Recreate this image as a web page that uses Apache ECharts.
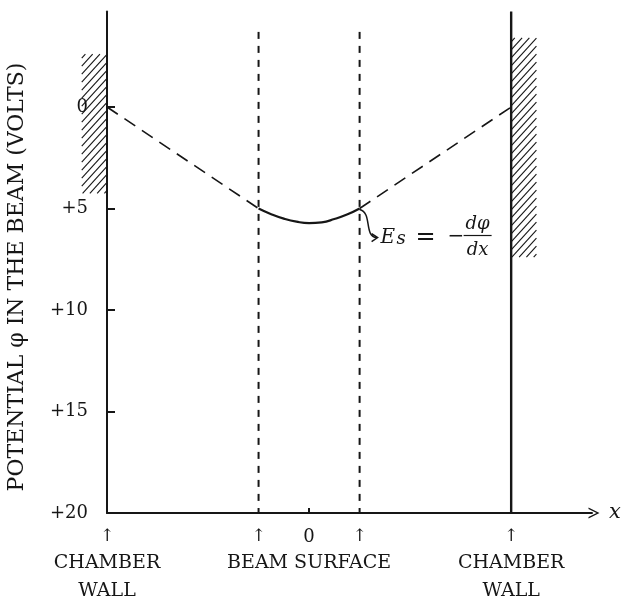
<!DOCTYPE html>
<html>
<head>
<meta charset="utf-8">
<script src="https://cdn.jsdelivr.net/npm/echarts@6/dist/echarts.min.js"></script>
<style>
  html, body { margin: 0; padding: 0; background: #fff; }
  #chart { width: 623px; height: 602px; }
</style>
</head>
<body>
<div id="chart"></div>
<script>
// x in beam radii: chamber walls at -4 / +4, beam surface at -1 / +1
var wallX = [-4, 4];
var beamX = [-1, 1];
// potential inside the beam (solid curve)
var beamCurveX = [-1, -0.75, -0.5, -0.25, 0, 0.25, 0.5, 0.75, 1];
var beamCurveY = [5.0, 5.28, 5.5, 5.65, 5.72, 5.68, 5.52, 5.3, 5.0];
// potential between beam and walls (dashed straight lines)
var leftGapX = [-4, -1], leftGapY = [0, 5.0];
var rightGapX = [1, 4], rightGapY = [5.0, 0];
// y ticks
var yTicks = [0, 5, 10, 15, 20];
var yTickLabels = ['0', '+5', '+10', '+15', '+20'];
// hatched wall sections [x0, x1, y0, y1]
var hatchLeft = [-4.5, -4, -2.6, 4.25];
var hatchRight = [4, 4.5, -3.4, 7.4];
var beamLineTop = -3.7;
var axisTop = -4.7;

var ink = '#161616';
var serif = 'DejaVu Serif';

function zip(xs, ys) {
  return xs.map(function (x, i) { return [x, ys[i]]; });
}

var chart = echarts.init(document.getElementById('chart'));

function renderHatch(params, api) {
  var a = api.coord([api.value(0), api.value(2)]);
  var b = api.coord([api.value(1), api.value(3)]);
  var x0 = Math.min(a[0], b[0]), x1 = Math.max(a[0], b[0]);
  var y0 = Math.min(a[1], b[1]), y1 = Math.max(a[1], b[1]);
  var w = x1 - x0, k = 1.1, step = 8;
  var lines = [];
  for (var yb = y0 + 4; yb < y1 + w * k; yb += step) {
    var sx = x0, sy = yb, ex = x1, ey = yb - w * k;
    if (sy > y1) { sx = x0 + (sy - y1) / k; sy = y1; }
    if (ey < y0) { ex = x0 + (yb - y0) / k; ey = y0; }
    if (ex <= sx) continue;
    lines.push({
      type: 'line',
      shape: { x1: sx, y1: sy, x2: ex, y2: ey },
      style: { stroke: ink, lineWidth: 1.1 }
    });
  }
  return { type: 'group', children: lines };
}

var option = {
  animation: false,
  backgroundColor: '#fff',
  grid: { left: 107, right: 31, top: 11.6, bottom: 89, containLabel: false, outerBoundsMode: 'none' },
  xAxis: {
    type: 'value',
    min: -4,
    max: 5.6,
    name: 'x',
    nameLocation: 'end',
    nameGap: 17,
    nameTextStyle: { fontFamily: serif, fontStyle: 'italic', fontSize: 21, color: ink },
    axisLine: {
      onZero: false,
      lineStyle: { color: ink, width: 2 },
      symbol: ['none', 'path://M0,12 L6,0 L12,12 L10.4,12 L6,3.2 L1.6,12 Z'],
      symbolSize: [11, 12],
      symbolOffset: [0, 2]
    },
    axisTick: { show: true, inside: true, length: 5, lineStyle: { color: ink, width: 2 }, customValues: [0] },
    axisLabel: {
      show: true,
      customValues: [wallX[0], beamX[0], 0, beamX[1], wallX[1]],
      margin: 12,
      color: ink,
      formatter: function (v) {
        if (v === 0) return '{z|0}\n{t|BEAM SURFACE}';
        if (v === wallX[0] || v === wallX[1]) return '{a|↑}\n{t|CHAMBER}\n{t|WALL}';
        return '{a|↑}';
      },
      rich: {
        a: { fontFamily: serif, fontSize: 17, lineHeight: 24, color: ink },
        z: { fontFamily: serif, fontSize: 18, lineHeight: 24, color: ink },
        t: { fontFamily: serif, fontSize: 19, lineHeight: 28, color: ink }
      }
    },
    splitLine: { show: false }
  },
  yAxis: {
    type: 'value',
    inverse: true,
    min: axisTop,
    max: 20,
    axisLine: { show: true, onZero: false, lineStyle: { color: ink, width: 2 } },
    axisTick: { show: true, inside: true, length: 8, lineStyle: { color: ink, width: 2 }, customValues: yTicks },
    axisLabel: {
      show: true,
      customValues: yTicks,
      margin: 19,
      fontFamily: serif,
      fontSize: 18,
      color: ink,
      formatter: function (v) { return yTickLabels[yTicks.indexOf(v)]; }
    },
    splitLine: { show: false }
  },
  series: [
    {
      type: 'custom',
      renderItem: renderHatch,
      data: [hatchLeft, hatchRight],
      silent: true,
      z: 1
    },
    {
      type: 'line',
      data: zip(leftGapX, leftGapY),
      symbol: 'none',
      lineStyle: { color: ink, width: 1.6, type: [13, 8] }
    },
    {
      type: 'line',
      data: zip(beamCurveX, beamCurveY),
      smooth: true,
      symbol: 'none',
      lineStyle: { color: ink, width: 2.2 }
    },
    {
      type: 'line',
      data: zip(rightGapX, rightGapY),
      symbol: 'none',
      lineStyle: { color: ink, width: 1.6, type: [13, 8] }
    },
    {
      type: 'line',
      data: [[beamX[0], beamLineTop], [beamX[0], 20]],
      symbol: 'none',
      lineStyle: { color: ink, width: 2, type: [7, 7] }
    },
    {
      type: 'line',
      data: [[beamX[1], beamLineTop], [beamX[1], 20]],
      symbol: 'none',
      lineStyle: { color: ink, width: 2, type: [7, 7] }
    },
    {
      type: 'line',
      data: [[wallX[1], axisTop], [wallX[1], 20]],
      symbol: 'none',
      lineStyle: { color: ink, width: 2.4 }
    }
  ]
};
chart.setOption(option);

// annotation: E_s = -dφ/dx arrow from the beam surface point
var p = chart.convertToPixel({ gridIndex: 0 }, [beamX[1], 5.0]);
var px = p[0], py = p[1];
function txt(x, y, s, size, italic, align) {
  return {
    type: 'text', x: x, y: y, silent: true,
    style: {
      text: s, fontFamily: serif, fontSize: size, fontStyle: italic ? 'italic' : 'normal',
      fill: ink, align: align || 'left', verticalAlign: 'middle'
    }
  };
}
chart.setOption({
  graphic: [
    {
      type: 'text', x: 17, y: 277, rotation: Math.PI / 2, silent: true,
      style: {
        text: 'POTENTIAL φ IN THE BEAM (VOLTS)', fontFamily: serif, fontSize: 22,
        fill: ink, align: 'center', verticalAlign: 'middle'
      }
    },
    {
      type: 'bezierCurve', silent: true,
      shape: { x1: px, y1: py + 1, cpx1: px + 13, cpy1: py + 4, cpx2: px + 4, cpy2: py + 28, x2: px + 17, y2: py + 29 },
      style: { stroke: ink, lineWidth: 1.5, fill: null }
    },
    {
      type: 'polyline', silent: true,
      shape: { points: [[px + 12, py + 25], [px + 18, py + 29], [px + 12, py + 33]] },
      style: { stroke: ink, lineWidth: 1.5, fill: null }
    },
    txt(px + 21, py + 29, 'E', 20, true),
    txt(px + 37, py + 31, 's', 18, true),
    txt(px + 56, py + 29, '=', 24, false),
    txt(px + 88, py + 28, '−', 20, false),
    txt(px + 118, py + 16, 'dφ', 18, true, 'center'),
    {
      type: 'line', silent: true,
      shape: { x1: px + 104, y1: py + 27, x2: px + 132, y2: py + 27 },
      style: { stroke: ink, lineWidth: 1.2 }
    },
    txt(px + 118, py + 42, 'dx', 18, true, 'center')
  ]
});
</script>
</body>
</html>
